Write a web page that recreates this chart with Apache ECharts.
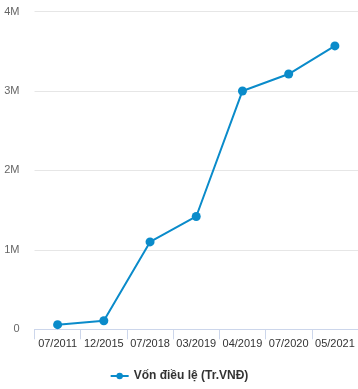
<!DOCTYPE html>
<html><head><meta charset="utf-8">
<script src="https://cdn.jsdelivr.net/npm/echarts@6/dist/echarts.min.js"></script>
<style>html,body{margin:0;padding:0;background:#fff}#c{width:358px;height:389px}</style>
</head><body><div id="c"></div>
<script>
const categories = ['07/2011','12/2015','07/2018','03/2019','04/2019','07/2020','05/2021'];
const values = [58000, 108000, 1100000, 1420000, 3000000, 3213000, 3567000];
const seriesName = 'Vốn điều lệ (Tr.VNĐ)';
const yTicks = {min: 0, max: 4000000, interval: 1000000};

const chart = echarts.init(document.getElementById('c'));
chart.setOption({
  animation: false,
  textStyle: {fontFamily: 'Liberation Sans, Arial, sans-serif'},
  grid: {left: 34.5, right: 0, top: 11.5, bottom: 59.7},
  xAxis: {
    type: 'category', data: categories, boundaryGap: true,
    axisLine: {lineStyle: {color: '#ccd6eb'}},
    axisTick: {show: true, length: 10, lineStyle: {color: '#ccd6eb'}},
    axisLabel: {color: '#333', fontSize: 11, margin: 9, interval: 0}
  },
  yAxis: {
    type: 'value', min: yTicks.min, max: yTicks.max, interval: yTicks.interval,
    axisLine: {show: false}, axisTick: {show: false},
    splitLine: {lineStyle: {color: '#e6e6e6'}},
    axisLabel: {color: '#666', fontSize: 11, margin: 15, padding: [6, 0, 0, 0],
      formatter: v => v === 0 ? '0' : (v / 1000000) + 'M'}
  },
  legend: {
    bottom: 2, left: 'center', itemWidth: 18, itemHeight: 8, itemGap: 5,
    textStyle: {color: '#333', fontSize: 12, fontWeight: 'bold'},
    data: [{name: seriesName}]
  },
  series: [{
    name: seriesName, type: 'line', data: values,
    color: '#0a8bca',
    lineStyle: {width: 2}, symbol: 'circle', symbolSize: 9
  }]
});
</script></body></html>
